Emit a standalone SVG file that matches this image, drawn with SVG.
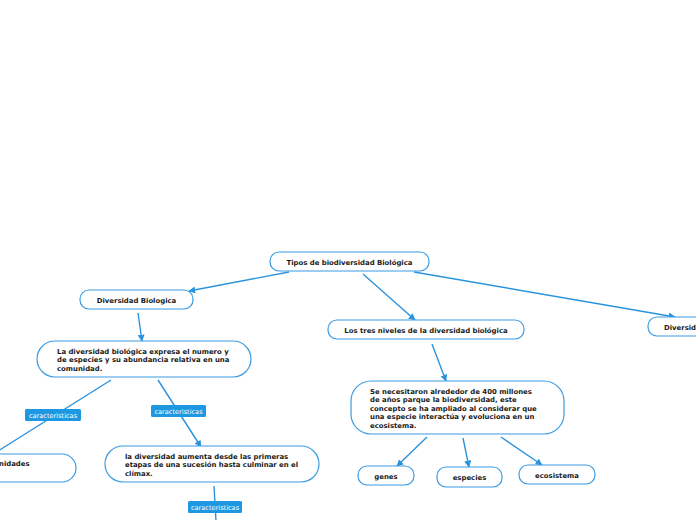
<svg xmlns="http://www.w3.org/2000/svg" width="696" height="520" viewBox="0 0 696 520">
<defs>
<marker id="arr" viewBox="0 0 10 10" refX="9" refY="5" markerWidth="7" markerHeight="7" markerUnits="userSpaceOnUse" orient="auto">
<path d="M0,0 L10,5 L0,10 Z" fill="#2a93dd"/>
</marker>
<style>
.node{fill:#ffffff;stroke:#3a9ce2;stroke-width:1.2}
.t{font-family:"DejaVu Sans",Verdana,sans-serif;font-weight:bold;font-size:6.9px;fill:#1a1a1a}
.c{text-anchor:middle}
.conn{stroke:#2a93dd;stroke-width:1.4;fill:none}
.lbl{fill:#1e98e0}
.lt{font-family:"DejaVu Sans",Verdana,sans-serif;font-size:6.6px;fill:#ffffff;text-anchor:middle}
</style>
</defs>
<rect width="696" height="520" fill="#ffffff"/>
<g id="connectors">
<line class="conn" x1="289" y1="272" x2="189" y2="291" marker-end="url(#arr)"/>
<line class="conn" x1="363" y1="274" x2="415" y2="320" marker-end="url(#arr)"/>
<line class="conn" x1="414" y1="272" x2="675" y2="317" marker-end="url(#arr)"/>
<line class="conn" x1="138" y1="313" x2="142" y2="341" marker-end="url(#arr)"/>
<line class="conn" x1="111" y1="380" x2="-2" y2="451"/>
<line class="conn" x1="158" y1="380" x2="201" y2="447" marker-end="url(#arr)"/>
<line class="conn" x1="214" y1="486" x2="216" y2="521"/>
<line class="conn" x1="432" y1="344" x2="446" y2="381" marker-end="url(#arr)"/>
<line class="conn" x1="427" y1="437" x2="397" y2="466" marker-end="url(#arr)"/>
<line class="conn" x1="463" y1="438" x2="469" y2="467" marker-end="url(#arr)"/>
<line class="conn" x1="501" y1="437" x2="542" y2="465" marker-end="url(#arr)"/>
<g id="labels">
<rect class="lbl" x="25" y="409" width="56" height="12" rx="1.5"/>
<text class="lt" x="53" y="417.5">caracteristicas</text>
<rect class="lbl" x="151" y="405" width="55" height="12" rx="1.5"/>
<text class="lt" x="178.5" y="413.5">caracteristicas</text>
<rect class="lbl" x="188" y="501" width="54" height="12" rx="1.5"/>
<text class="lt" x="215" y="509.5">caracteristicas</text>
</g>
</g>
<g id="root">
<rect class="node" x="270" y="252" width="159" height="19" rx="9"/>
<text class="t c" x="349.5" y="264.5">Tipos de biodiversidad Biológica</text>
</g>
<g id="diversidad-biologica">
<rect class="node" x="80" y="290" width="113" height="19" rx="9"/>
<text class="t c" x="136.5" y="302.5">Diversidad Biologica</text>
</g>
<g id="la-diversidad">
<rect class="node" x="37" y="341" width="214" height="36" rx="18"/>
<text class="t" x="57" y="354">La diversidad biológica expresa el numero y</text>
<text class="t" x="57" y="362">de especies y su abundancia relativa en una</text>
<text class="t" x="57" y="370.5">comunidad.</text>
</g>
<g id="comunidades">
<rect class="node" x="-40" y="454" width="116" height="28" rx="14"/>
<text class="t" x="-1" y="466">nidades</text>
</g>
<g id="diversidad-aumenta">
<rect class="node" x="105" y="446" width="214" height="36" rx="18"/>
<text class="t" x="125" y="458.5">la diversidad aumenta desde las primeras</text>
<text class="t" x="125" y="467">etapas de una sucesión hasta culminar en el</text>
<text class="t" x="125" y="475.5">clímax.</text>
</g>
<g id="tres-niveles">
<rect class="node" x="328" y="320" width="196" height="19" rx="9"/>
<text class="t c" x="426" y="332.5">Los tres niveles de la diversidad biológica</text>
</g>
<g id="diversid">
<rect class="node" x="648" y="317" width="70" height="19" rx="9"/>
<text class="t" x="664" y="329.5">Diversid</text>
</g>
<g id="se-necesitaron">
<rect class="node" x="351" y="381" width="213" height="53" rx="20"/>
<text class="t" x="370" y="393.5">Se necesitaron alrededor de 400 millones</text>
<text class="t" x="370" y="402">de años parque la biodiversidad, este</text>
<text class="t" x="370" y="410.5">concepto se ha ampliado al considerar que</text>
<text class="t" x="370" y="419">una especie interactúa y evoluciona en un</text>
<text class="t" x="370" y="427.5">ecosistema.</text>
</g>
<g id="genes">
<rect class="node" x="358" y="466" width="56" height="19" rx="9"/>
<text class="t c" x="386" y="478.5">genes</text>
</g>
<g id="especies">
<rect class="node" x="437" y="467" width="65" height="20" rx="9"/>
<text class="t c" x="469.5" y="480">especies</text>
</g>
<g id="ecosistema">
<rect class="node" x="519" y="465" width="76" height="19" rx="9"/>
<text class="t c" x="557" y="477.5">ecosistema</text>
</g>
</svg>
